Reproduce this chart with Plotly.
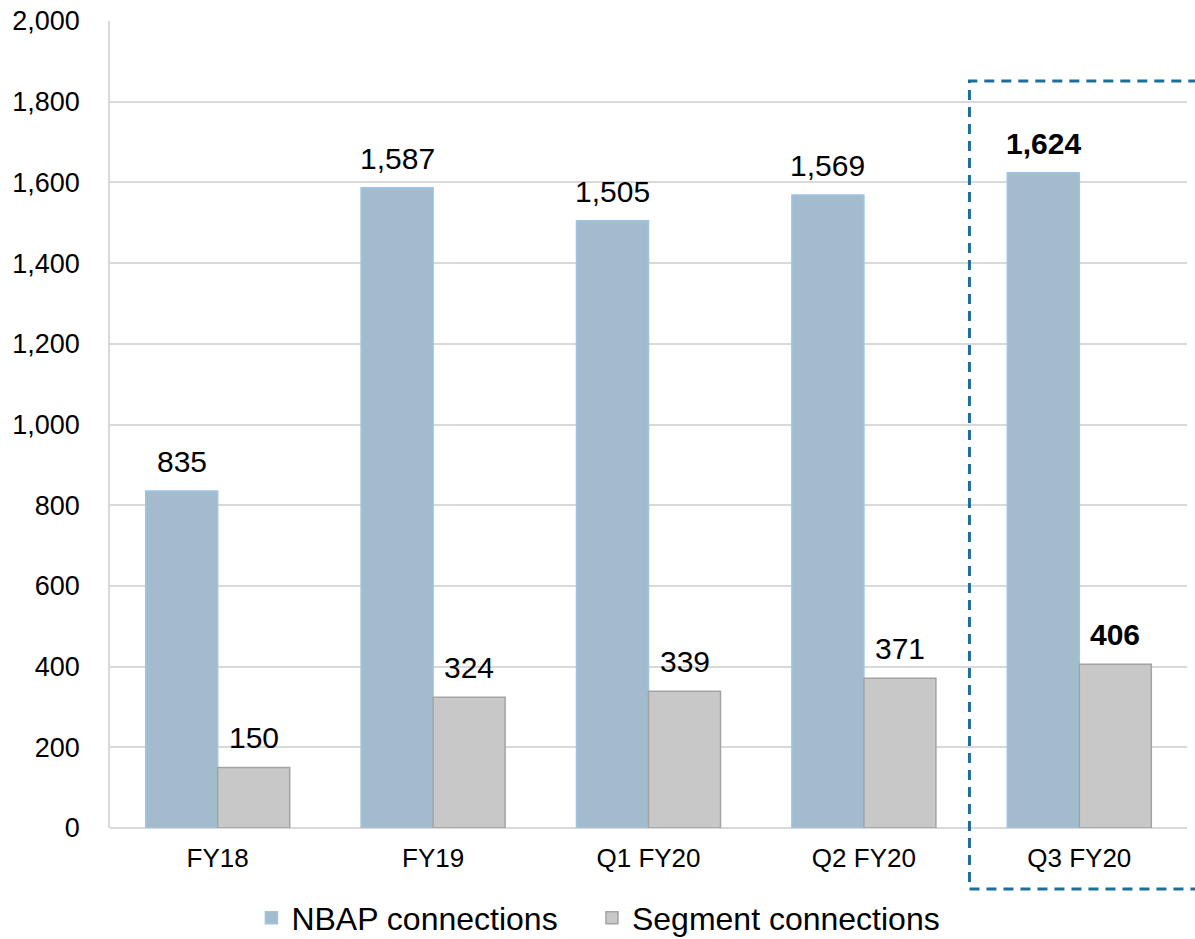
import plotly.graph_objects as go

categories = ["FY18", "FY19", "Q1 FY20", "Q2 FY20", "Q3 FY20"]
nbap = [835, 1587, 1505, 1569, 1624]
segment = [150, 324, 339, 371, 406]
y_ticks = [0, 200, 400, 600, 800, 1000, 1200, 1400, 1600, 1800, 2000]
y_tick_text = ["0", "200", "400", "600", "800", "1,000", "1,200", "1,400", "1,600", "1,800", "2,000"]

FONT = "Arial, Liberation Sans, sans-serif"

fig = go.Figure()
fig.add_trace(go.Bar(
    name="NBAP connections", x=categories, y=nbap, legend="legend",
    marker=dict(color="#a3bccd", line=dict(color="#9dc3e6", width=1.5)),
))
fig.add_trace(go.Bar(
    name="Segment connections", x=categories, y=segment, legend="legend2",
    marker=dict(color="#c8c8c8", line=dict(color="#a3a3a3", width=1.5)),
))

# value labels
for i, c in enumerate(categories):
    bold = (i == len(categories) - 1)
    for vals, shift in ((nbap, -36), (segment, 36)):
        txt = f"{vals[i]:,}"
        if bold:
            txt = f"<b>{txt}</b>"
        fig.add_annotation(x=c, y=vals[i], xref="x", yref="y", text=txt,
                           showarrow=False, xshift=shift, yshift=11,
                           yanchor="bottom", xanchor="center",
                           font=dict(family=FONT, size=30, color="#000000"))

# dashed highlight box
fig.add_shape(type="rect", xref="paper", yref="paper",
              x0=0.798, x1=1.05, y0=-0.0756, y1=0.9257,
              line=dict(color="#1f6e99", width=3, dash="10px,7px"),
              fillcolor="rgba(0,0,0,0)", layer="above")

legend_common = dict(orientation="h", xanchor="left", y=-0.1115, yanchor="middle",
                     font=dict(family=FONT, size=32, color="#000000"),
                     bgcolor="rgba(0,0,0,0)")

fig.update_layout(
    width=1195, height=939,
    margin=dict(l=110, r=8, t=21, b=111, autoexpand=False),
    paper_bgcolor="white", plot_bgcolor="white",
    barmode="group", bargap=0.3315, bargroupgap=0,
    font=dict(family=FONT, size=26, color="#000000"),
    showlegend=True,
    legend=dict(x=0.1313, **legend_common),
    legend2=dict(x=0.4475, **legend_common),
    xaxis=dict(showgrid=False, showline=False, zeroline=False, ticks="",
               tickfont=dict(family=FONT, size=26, color="#000000"),
               ticklabelstandoff=12),
    yaxis=dict(range=[0, 2000], tickvals=y_ticks, ticktext=y_tick_text,
               showgrid=True, gridcolor="#d9d9d9", gridwidth=1.5,
               zeroline=True, zerolinecolor="#d9d9d9", zerolinewidth=1.5,
               showline=True, linecolor="#d9d9d9", linewidth=1.5,
               ticks="", tickfont=dict(family=FONT, size=27, color="#000000"),
               ticklabelstandoff=23),
)

fig.write_html("out.html")
